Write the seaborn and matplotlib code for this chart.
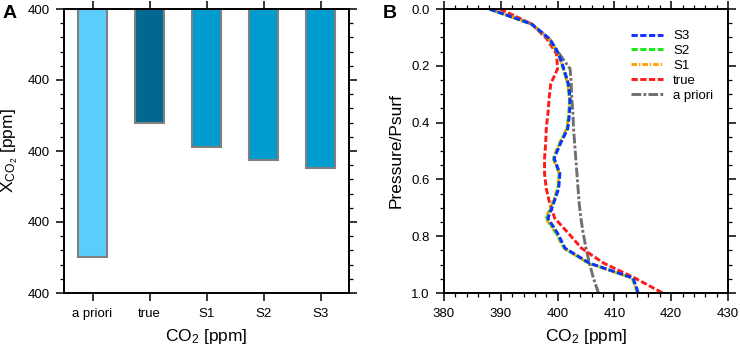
import matplotlib
matplotlib.use("Agg")
import matplotlib.pyplot as plt
import matplotlib.ticker as mticker
import seaborn as sns
import numpy as np
import pandas as pd

# --- data: panel A (bars hang from the top, all ticks round to 400) ---
bar_labels = ["a priori", "true", "S1", "S2", "S3"]
bar_values = [400.149, 399.960, 399.994, 400.013, 400.024]
bar_colors = ["#5ccdfa", "#006891", "#009bcf", "#009bcf", "#009bcf"]

# --- data: panel B (20 sigma levels) ---
levels = [i / 19 for i in range(20)]
co2_s3 = [388.0, 395.4, 398.6, 400.2, 401.1, 401.9, 402.2, 402.1, 401.8, 400.5,
          399.4, 400.4, 400.2, 399.3, 398.3, 400.0, 401.3, 405.6, 413.3, 414.2]
co2_s2 = [388.0, 395.4, 398.5, 400.2, 401.0, 401.8, 402.1, 402.0, 401.7, 400.4,
          399.3, 400.3, 400.1, 399.2, 398.1, 399.8, 401.2, 405.5, 413.2, 414.1]
co2_s1 = [388.0, 395.4, 398.5, 400.1, 401.0, 401.8, 402.1, 402.0, 401.6, 400.3,
          399.2, 400.3, 400.0, 399.1, 397.9, 399.7, 401.1, 405.4, 413.1, 414.1]
co2_true = [389.9, 395.4, 398.1, 399.8, 400.0, 398.8, 398.5, 398.3, 398.0, 397.9,
            397.7, 397.7, 398.0, 398.6, 399.5, 401.9, 404.2, 408.1, 413.6, 418.5]
co2_prior = [388.0, 395.4, 398.6, 400.3, 402.2, 402.4, 402.5, 402.7, 402.8, 403.0,
             403.2, 403.4, 403.6, 403.8, 404.1, 404.5, 405.0, 405.6, 406.3, 407.2]

sns.set_theme(style="ticks")
plt.rcParams['font.family'] = ['Liberation Sans', 'DejaVu Sans']
plt.rcParams['mathtext.default'] = 'regular'
plt.rcParams['lines.scale_dashes'] = False
plt.rcParams['text.color'] = 'black'
plt.rcParams['axes.labelcolor'] = 'black'

fig = plt.figure(figsize=(7.4, 3.49), dpi=100)
axA = fig.add_axes([64 / 740, 1 - 293 / 349, 285 / 740, 284 / 349])
axB = fig.add_axes([444 / 740, 1 - 293 / 349, 284 / 740, 284 / 349])


def style_axes(ax):
    for sp in ax.spines.values():
        sp.set_linewidth(1.4)
        sp.set_color("black")
        sp.set_visible(True)
    ax.tick_params(which="both", direction="out", top=True, right=True,
                   color="black", width=1.1, labelsize=9.5, labelcolor="black")
    ax.tick_params(which="major", length=5.5, pad=5)
    ax.tick_params(which="minor", length=2.8, width=0.9)


# --- panel A ---
df_bar = pd.DataFrame({"case": bar_labels, "xco2": bar_values})
sns.barplot(data=df_bar, x="case", y="xco2", hue="case", palette=bar_colors,
            legend=False, width=0.5, edgecolor="#808080", linewidth=1.5,
            saturation=1, ax=axA)
axA.set_xlim(-0.5, 4.5)
axA.set_ylim(400.2, 399.8)
axA.yaxis.set_major_locator(mticker.MultipleLocator(0.1))
axA.yaxis.set_minor_locator(mticker.MultipleLocator(0.02))
axA.yaxis.set_major_formatter(mticker.FormatStrFormatter('%.0f'))
style_axes(axA)
axA.set_xlabel("CO$_2$ [ppm]", fontsize=12.5, labelpad=5)
axA.set_ylabel("X$_{CO_2}$ [ppm]", fontsize=12.5, labelpad=5)
fig.text(0.004, 0.985, "A", fontsize=14, fontweight="bold", va="top", ha="left")

# --- panel B ---
series = [
    ("a priori", co2_prior, "#6f6f6f", (7, 1.6, 2, 1.6)),
    ("true", co2_true, "#ff1a1a", (4.5, 1.8)),
    ("S1", co2_s1, "#ffa000", (4, 1.4, 1, 1.4)),
    ("S2", co2_s2, "#18e818", (4.5, 1.8)),
    ("S3", co2_s3, "#1030ff", (4.5, 1.8)),
]
for name, vals, col, dash in series:
    df_line = pd.DataFrame({"co2": vals, "p": levels})
    sns.lineplot(data=df_line, x="co2", y="p", sort=False, orient="y",
                 color=col, linewidth=2.1, dashes=dash, label=name, ax=axB)

axB.set_xlim(380, 430)
axB.set_ylim(1.0, 0.0)
axB.xaxis.set_major_locator(mticker.MultipleLocator(10))
axB.xaxis.set_minor_locator(mticker.MultipleLocator(2))
axB.yaxis.set_major_locator(mticker.MultipleLocator(0.2))
axB.yaxis.set_minor_locator(mticker.MultipleLocator(0.05))
axB.yaxis.set_major_formatter(mticker.FormatStrFormatter('%.1f'))
style_axes(axB)
axB.set_xlabel("CO$_2$ [ppm]", fontsize=12.5, labelpad=5)
axB.set_ylabel("Pressure/Psurf", fontsize=12.5, labelpad=5)

handles, labels = axB.get_legend_handles_labels()
order = [labels.index(n) for n in ["S3", "S2", "S1", "true", "a priori"]]
axB.legend([handles[i] for i in order], [labels[i] for i in order],
           loc="upper left", bbox_to_anchor=(0.64, 0.945), frameon=False,
           fontsize=9.5, handlelength=2.4, handletextpad=0.8, labelspacing=0.2,
           borderaxespad=0)
fig.text(383 / 740, 0.985, "B", fontsize=14, fontweight="bold", va="top", ha="left")

fig.savefig("out.png", dpi=100)
